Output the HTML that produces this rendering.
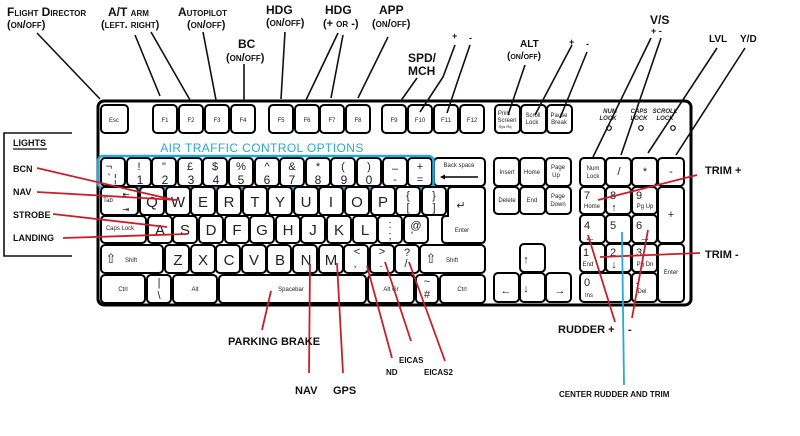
<!DOCTYPE html>
<html><head><meta charset="utf-8"><style>
html,body{margin:0;padding:0;background:#fff;}
svg{display:block;}
.k{fill:#fff;stroke:#000;stroke-width:2;}
.t{font-family:"Liberation Sans",sans-serif;font-size:6px;fill:#222;text-anchor:middle;}
.L{font-family:"Liberation Sans",sans-serif;font-size:15px;fill:#222;text-anchor:middle;}
.n{font-family:"Liberation Sans",sans-serif;font-size:11px;fill:#222;text-anchor:middle;}
.lb{font-family:"Liberation Sans",sans-serif;font-size:11px;font-weight:bold;font-variant:small-caps;fill:#111;}
.bl{stroke:#111;stroke-width:1.6;fill:none;}
.rd{stroke:#c8202a;stroke-width:1.8;fill:none;}
</style></head><body>
<svg width="800" height="436" viewBox="0 0 800 436" xmlns="http://www.w3.org/2000/svg">
<rect x="98" y="101" width="593" height="204" rx="6" fill="#fff" stroke="#000" stroke-width="3"/>
<!-- function row -->
<g>
<rect class="k" x="101" y="105" width="27" height="28" rx="4"/><text class="t" x="114" y="122">Esc</text>
<rect class="k" x="153" y="105" width="24" height="28" rx="4"/><text class="t" x="165" y="122">F1</text>
<rect class="k" x="179" y="105" width="24" height="28" rx="4"/><text class="t" x="191" y="122">F2</text>
<rect class="k" x="205" y="105" width="24" height="28" rx="4"/><text class="t" x="217" y="122">F3</text>
<rect class="k" x="231" y="105" width="24" height="28" rx="4"/><text class="t" x="243" y="122">F4</text>
<rect class="k" x="269" y="105" width="24" height="28" rx="4"/><text class="t" x="281" y="122">F5</text>
<rect class="k" x="295" y="105" width="24" height="28" rx="4"/><text class="t" x="307" y="122">F6</text>
<rect class="k" x="320" y="105" width="24" height="28" rx="4"/><text class="t" x="332" y="122">F7</text>
<rect class="k" x="346" y="105" width="24" height="28" rx="4"/><text class="t" x="358" y="122">F8</text>
<rect class="k" x="382" y="105" width="24" height="28" rx="4"/><text class="t" x="394" y="122">F9</text>
<rect class="k" x="408" y="105" width="24" height="28" rx="4"/><text class="t" x="420" y="122">F10</text>
<rect class="k" x="434" y="105" width="24" height="28" rx="4"/><text class="t" x="446" y="122">F11</text>
<rect class="k" x="460" y="105" width="24" height="28" rx="4"/><text class="t" x="472" y="122">F12</text>
<rect class="k" x="495" y="105" width="25" height="28" rx="4"/><text class="t" x="504" y="115">Print</text><text class="t" x="507" y="122">Screen</text><text class="t" x="505" y="128" style="font-size:4px">Sys Rq</text>
<rect class="k" x="521" y="105" width="25" height="28" rx="4"/><text class="t" x="533" y="117">Scroll</text><text class="t" x="532" y="124">Lock</text>
<rect class="k" x="547" y="105" width="25" height="28" rx="4"/><text class="t" x="559" y="117">Pause</text><text class="t" x="559" y="124">Break</text>
</g>
<text x="610" y="113" class="t" style="font-style:italic;font-weight:bold">NUM</text><text x="608" y="120" class="t" style="font-style:italic;font-weight:bold">LOCK</text>
<text x="639" y="113" class="t" style="font-style:italic;font-weight:bold">CAPS</text><text x="639" y="120" class="t" style="font-style:italic;font-weight:bold">LOCK</text>
<text x="665" y="113" class="t" style="font-style:italic;font-weight:bold">SCROLL</text><text x="665" y="120" class="t" style="font-style:italic;font-weight:bold">LOCK</text>
<circle cx="609" cy="128" r="2.3" fill="none" stroke="#111" stroke-width="1.2"/>
<circle cx="641" cy="128" r="2.3" fill="none" stroke="#111" stroke-width="1.2"/>
<circle cx="673" cy="128" r="2.3" fill="none" stroke="#111" stroke-width="1.2"/>
<text x="262" y="152" style="font-family:'Liberation Sans',sans-serif;font-size:12px;fill:#2aa8d6;letter-spacing:0.4px" text-anchor="middle">AIR TRAFFIC CONTROL OPTIONS</text>
<!-- number row -->
<g>
<rect class="k" x="101" y="158" width="24" height="28" rx="4"/><text class="n" x="109" y="170">¬</text><text class="n" x="112" y="182">` ¦</text>
<rect class="k" x="127" y="158" width="24" height="28" rx="4"/><text class="n" x="139" y="170">!</text><text class="L" x="140" y="184" style="font-size:12px">1</text>
<rect class="k" x="152" y="158" width="24" height="28" rx="4"/><text class="n" x="164" y="170">"</text><text class="L" x="165" y="184" style="font-size:12px">2</text>
<rect class="k" x="178" y="158" width="24" height="28" rx="4"/><text class="n" x="190" y="170">£</text><text class="L" x="191" y="184" style="font-size:12px">3</text>
<rect class="k" x="203" y="158" width="24" height="28" rx="4"/><text class="n" x="215" y="170">$</text><text class="L" x="216" y="184" style="font-size:12px">4</text>
<rect class="k" x="229" y="158" width="24" height="28" rx="4"/><text class="n" x="241" y="170">%</text><text class="L" x="241" y="184" style="font-size:12px">5</text>
<rect class="k" x="255" y="158" width="24" height="28" rx="4"/><text class="n" x="267" y="170">^</text><text class="L" x="267" y="184" style="font-size:12px">6</text>
<rect class="k" x="280" y="158" width="24" height="28" rx="4"/><text class="n" x="292" y="170">&amp;</text><text class="L" x="292" y="184" style="font-size:12px">7</text>
<rect class="k" x="306" y="158" width="24" height="28" rx="4"/><text class="n" x="318" y="170">*</text><text class="L" x="318" y="184" style="font-size:12px">8</text>
<rect class="k" x="331" y="158" width="24" height="28" rx="4"/><text class="n" x="343" y="170">(</text><text class="L" x="344" y="184" style="font-size:12px">9</text>
<rect class="k" x="357" y="158" width="24" height="28" rx="4"/><text class="n" x="369" y="170">)</text><text class="L" x="369" y="184" style="font-size:12px">0</text>
<rect class="k" x="383" y="158" width="24" height="28" rx="4"/><text class="n" x="395" y="172">–</text><text class="n" x="395" y="183">-</text>
<rect class="k" x="408" y="158" width="24" height="28" rx="4"/><text class="n" x="420" y="170">+</text><text class="n" x="420" y="183">=</text>
<rect class="k" x="434" y="158" width="51" height="28" rx="4"/><text class="t" x="459" y="167">Back space</text><line x1="442" y1="177" x2="478" y2="177" stroke="#000" stroke-width="1.5"/><path d="M440,177 l5,-2.5 v5z" fill="#000"/>
</g>
<rect x="98" y="156" width="335.5" height="32" rx="5" fill="none" stroke="#2aa8d6" stroke-width="2.5"/>
<!-- Q row -->
<g>
<rect class="k" x="101" y="187" width="37" height="28" rx="4"/><text class="t" x="108" y="202">Tab</text><text class="n" x="126" y="197" style="font-size:8px">⇤</text><text class="n" x="126" y="212" style="font-size:8px">⇥</text>
<rect class="k" x="140" y="187" width="24" height="28" rx="4"/><text class="L" x="152" y="207">Q</text>
<rect class="k" x="166" y="187" width="24" height="28" rx="4"/><text class="L" x="178" y="207">W</text>
<rect class="k" x="191" y="187" width="24" height="28" rx="4"/><text class="L" x="203" y="207">E</text>
<rect class="k" x="217" y="187" width="24" height="28" rx="4"/><text class="L" x="229" y="207">R</text>
<rect class="k" x="243" y="187" width="24" height="28" rx="4"/><text class="L" x="255" y="207">T</text>
<rect class="k" x="268" y="187" width="24" height="28" rx="4"/><text class="L" x="280" y="207">Y</text>
<rect class="k" x="294" y="187" width="24" height="28" rx="4"/><text class="L" x="306" y="207">U</text>
<rect class="k" x="319" y="187" width="24" height="28" rx="4"/><text class="L" x="331" y="207">I</text>
<rect class="k" x="345" y="187" width="24" height="28" rx="4"/><text class="L" x="357" y="207">O</text>
<rect class="k" x="371" y="187" width="24" height="28" rx="4"/><text class="L" x="383" y="207">P</text>
<rect class="k" x="396" y="187" width="24" height="28" rx="4"/><text class="n" x="408" y="199">{</text><text class="n" x="408" y="211">[</text>
<rect class="k" x="422" y="187" width="24" height="28" rx="4"/><text class="n" x="434" y="199">}</text><text class="n" x="434" y="211">]</text>
<path class="k" d="M452,187 H481 q4,0 4,4 V239 q0,4 -4,4 H446 q-4,0 -4,-4 V220 q0,-4 4,-4 H448 V191 q0,-4 4,-4z"/>
<text class="n" x="461" y="209">↵</text><text class="t" x="462" y="232">Enter</text>
</g>
<!-- A row -->
<g>
<rect class="k" x="101" y="216" width="45" height="27" rx="4"/><text class="t" x="120" y="230">Caps Lock</text>
<rect class="k" x="148" y="216" width="24" height="27" rx="4"/><text class="L" x="160" y="235">A</text>
<rect class="k" x="173" y="216" width="24" height="27" rx="4"/><text class="L" x="185" y="235">S</text>
<rect class="k" x="199" y="216" width="24" height="27" rx="4"/><text class="L" x="211" y="235">D</text>
<rect class="k" x="225" y="216" width="24" height="27" rx="4"/><text class="L" x="237" y="235">F</text>
<rect class="k" x="250" y="216" width="24" height="27" rx="4"/><text class="L" x="262" y="235">G</text>
<rect class="k" x="276" y="216" width="24" height="27" rx="4"/><text class="L" x="288" y="235">H</text>
<rect class="k" x="301" y="216" width="24" height="27" rx="4"/><text class="L" x="313" y="235">J</text>
<rect class="k" x="327" y="216" width="24" height="27" rx="4"/><text class="L" x="339" y="235">K</text>
<rect class="k" x="353" y="216" width="24" height="27" rx="4"/><text class="L" x="365" y="235">L</text>
<rect class="k" x="378" y="216" width="24" height="27" rx="4"/><text class="n" x="390" y="228">:</text><text class="n" x="390" y="239">;</text>
<rect class="k" x="404" y="216" width="24" height="27" rx="4"/><text class="n" x="416" y="229">@</text><text class="n" x="412" y="239">'</text>
</g>
<!-- Z row -->
<g>
<rect class="k" x="101" y="245" width="62" height="28" rx="4"/><text class="n" x="111" y="263" style="font-size:13px">⇧</text><text class="t" x="131" y="262">Shift</text>
<rect class="k" x="165" y="245" width="24" height="28" rx="4"/><text class="L" x="178" y="265">Z</text>
<rect class="k" x="191" y="245" width="24" height="28" rx="4"/><text class="L" x="203" y="265">X</text>
<rect class="k" x="216" y="245" width="24" height="28" rx="4"/><text class="L" x="229" y="265">C</text>
<rect class="k" x="242" y="245" width="24" height="28" rx="4"/><text class="L" x="254" y="265">V</text>
<rect class="k" x="267" y="245" width="24" height="28" rx="4"/><text class="L" x="280" y="265">B</text>
<rect class="k" x="293" y="245" width="24" height="28" rx="4"/><text class="L" x="306" y="265">N</text>
<rect class="k" x="319" y="245" width="24" height="28" rx="4"/><text class="L" x="331" y="265">M</text>
<rect class="k" x="344" y="245" width="24" height="28" rx="4"/><text class="n" x="357" y="255">&lt;</text><text class="n" x="355" y="267">,</text>
<rect class="k" x="370" y="245" width="24" height="28" rx="4"/><text class="n" x="382" y="255">&gt;</text><text class="n" x="381" y="267">.</text>
<rect class="k" x="395" y="245" width="24" height="28" rx="4"/><text class="n" x="407" y="256">?</text><text class="n" x="406" y="267">/</text>
<rect class="k" x="420" y="245" width="65" height="28" rx="4"/><text class="n" x="431" y="263" style="font-size:13px">⇧</text><text class="t" x="452" y="262">Shift</text>
</g>
<!-- bottom row -->
<g>
<rect class="k" x="101" y="275" width="44" height="28" rx="4"/><text class="t" x="123" y="291">Ctrl</text>
<rect class="k" x="147" y="275" width="24" height="28" rx="4"/><text class="n" x="159" y="286">|</text><text class="n" x="159" y="299">\</text>
<rect class="k" x="173" y="275" width="44" height="28" rx="4"/><text class="t" x="195" y="291">Alt</text>
<rect class="k" x="219" y="275" width="147" height="28" rx="4"/><text class="t" x="291" y="291">Spacebar</text>
<rect class="k" x="368" y="275" width="46" height="28" rx="4"/><text class="t" x="391" y="291">Alt Gr</text>
<rect class="k" x="416" y="275" width="22" height="28" rx="4"/><text class="n" x="427" y="285">~</text><text class="n" x="427" y="298">#</text>
<rect class="k" x="440" y="275" width="45" height="28" rx="4"/><text class="t" x="462" y="291">Ctrl</text>
</g>
<!-- nav cluster -->
<g>
<rect class="k" x="494" y="158" width="25" height="28" rx="4"/><text class="t" x="507" y="174">Insert</text>
<rect class="k" x="520" y="158" width="25" height="28" rx="4"/><text class="t" x="532" y="174">Home</text>
<rect class="k" x="546" y="158" width="25" height="28" rx="4"/><text class="t" x="558" y="169">Page</text><text class="t" x="556" y="177">Up</text>
<rect class="k" x="494" y="187" width="25" height="27" rx="4"/><text class="t" x="507" y="202">Delete</text>
<rect class="k" x="520" y="187" width="25" height="27" rx="4"/><text class="t" x="532" y="202">End</text>
<rect class="k" x="546" y="187" width="25" height="27" rx="4"/><text class="t" x="558" y="198">Page</text><text class="t" x="558" y="206">Down</text>
<rect class="k" x="520" y="244" width="25" height="28" rx="4"/><text class="n" x="526" y="263">↑</text>
<rect class="k" x="494" y="273" width="25" height="29" rx="4"/><text class="n" x="506" y="294">←</text>
<rect class="k" x="520" y="273" width="25" height="29" rx="4"/><text class="n" x="526" y="292">↓</text>
<rect class="k" x="546" y="273" width="25" height="29" rx="4"/><text class="n" x="560" y="294">→</text>
</g>
<!-- numpad -->
<g>
<rect class="k" x="580" y="158" width="25" height="28" rx="4"/><text class="t" x="593" y="170">Num</text><text class="t" x="593" y="178">Lock</text>
<rect class="k" x="606" y="158" width="25" height="28" rx="4"/><text class="n" x="619" y="175">/</text>
<rect class="k" x="632" y="158" width="25" height="28" rx="4"/><text class="n" x="645" y="175">*</text>
<rect class="k" x="658" y="158" width="26" height="28" rx="4"/><text class="n" x="671" y="175">-</text>
<rect class="k" x="580" y="187" width="25" height="27" rx="4"/><text class="n" x="587" y="199">7</text><text class="t" x="592" y="208">Home</text>
<rect class="k" x="606" y="187" width="25" height="27" rx="4"/><text class="n" x="613" y="199">8</text><text class="n" x="614" y="211">↑</text>
<rect class="k" x="632" y="187" width="25" height="27" rx="4"/><text class="n" x="639" y="199">9</text><text class="t" x="645" y="208">Pg Up</text>
<rect class="k" x="658" y="187" width="26" height="56" rx="4"/><text class="n" x="671" y="218">+</text>
<rect class="k" x="580" y="215" width="25" height="28" rx="4"/><text class="n" x="587" y="229">4</text><text class="n" x="590" y="241">←</text>
<rect class="k" x="606" y="215" width="25" height="28" rx="4"/><text class="n" x="613" y="229">5</text>
<rect class="k" x="632" y="215" width="25" height="28" rx="4"/><text class="n" x="639" y="229">6</text><text class="n" x="645" y="241">→</text>
<rect class="k" x="580" y="244" width="25" height="28" rx="4"/><text class="n" x="586" y="256">1</text><text class="t" x="588" y="266">End</text>
<rect class="k" x="606" y="244" width="25" height="28" rx="4"/><text class="n" x="613" y="256">2</text><text class="n" x="614" y="268">↓</text>
<rect class="k" x="632" y="244" width="25" height="28" rx="4"/><text class="n" x="639" y="256">3</text><text class="t" x="645" y="266">Pg Dn</text>
<rect class="k" x="658" y="244" width="26" height="58" rx="4"/><text class="t" x="671" y="274">Enter</text>
<rect class="k" x="580" y="273" width="51" height="29" rx="4"/><text class="n" x="587" y="286">0</text><text class="t" x="589" y="297">Ins</text>
<rect class="k" x="632" y="273" width="25" height="29" rx="4"/><text class="n" x="637" y="284">.</text><text class="t" x="642" y="293">Del</text>
</g>
<!-- lights box -->
<path class="bl" d="M72,133 H4 V256 H72" stroke-width="1.5"/>
<text class="lb" x="13" y="146" style="font-size:9px">LIGHTS</text><line x1="13" y1="149" x2="47" y2="149" stroke="#111" stroke-width="1.2"/>
<text class="lb" x="13" y="172" style="font-size:9px">BCN</text>
<text class="lb" x="13" y="195" style="font-size:9px">NAV</text>
<text class="lb" x="13" y="218" style="font-size:9px">STROBE</text>
<text class="lb" x="13" y="241" style="font-size:9px">LANDING</text>
<!-- red lines -->
<line class="rd" x1="37" y1="168" x2="174" y2="200"/>
<line class="rd" x1="37" y1="192" x2="177" y2="200"/>
<line class="rd" x1="53" y1="214" x2="167" y2="227"/>
<line class="rd" x1="63" y1="238" x2="188" y2="234"/>
<line class="rd" x1="271" y1="291" x2="262" y2="330"/>
<line class="rd" x1="310" y1="264" x2="309" y2="373"/>
<line class="rd" x1="337" y1="263" x2="343" y2="373"/>
<line class="rd" x1="367" y1="266" x2="392" y2="358"/>
<line class="rd" x1="385" y1="262" x2="411" y2="341"/>
<line class="rd" x1="409" y1="262" x2="445" y2="361"/>
<line class="rd" x1="697" y1="175" x2="598" y2="200"/>
<line class="rd" x1="700" y1="253" x2="600" y2="257"/>
<line class="rd" x1="588" y1="235" x2="615" y2="322"/>
<line class="rd" x1="648" y1="230" x2="632" y2="318"/>
<line x1="622" y1="232" x2="624" y2="385" stroke="#2aa8d6" stroke-width="1.8"/>
<!-- bottom labels -->
<text class="lb" x="228" y="345" style="font-size:11px">PARKING BRAKE</text>
<text class="lb" x="295" y="394" style="font-size:11px">NAV</text>
<text class="lb" x="333" y="394" style="font-size:11px">GPS</text>
<text class="lb" x="386" y="375" style="font-size:8px">ND</text>
<text class="lb" x="399" y="363" style="font-size:8px">EICAS</text>
<text class="lb" x="424" y="375" style="font-size:8px">EICAS2</text>
<text class="lb" x="558" y="333" style="font-size:11px">RUDDER +</text>
<text class="lb" x="628" y="333" style="font-size:11px">-</text>
<text class="lb" x="559" y="397" style="font-size:8px">CENTER RUDDER AND TRIM</text>
<text class="lb" x="705" y="174" style="font-size:11px">TRIM +</text>
<text class="lb" x="705" y="258" style="font-size:11px">TRIM -</text>
<!-- top labels -->
<text class="lb" x="7" y="16" style="font-size:12px">Flight Director</text>
<text class="lb" x="7" y="28" style="font-size:11px">(on/off)</text>
<text class="lb" x="108" y="16" style="font-size:12px">A/T arm</text>
<text class="lb" x="101" y="28" style="font-size:11px">(left. right)</text>
<text class="lb" x="178" y="16" style="font-size:12px">Autopilot</text>
<text class="lb" x="187" y="28" style="font-size:11px">(on/off)</text>
<text class="lb" x="266" y="14" style="font-size:12px">HDG</text>
<text class="lb" x="266" y="26" style="font-size:11px">(on/off)</text>
<text class="lb" x="325" y="14" style="font-size:12px">HDG</text>
<text class="lb" x="323" y="27" style="font-size:11px">(+ or -)</text>
<text class="lb" x="379" y="14" style="font-size:12px">APP</text>
<text class="lb" x="372" y="27" style="font-size:11px">(on/off)</text>
<text class="lb" x="238" y="48" style="font-size:12px">BC</text>
<text class="lb" x="226" y="61" style="font-size:11px">(on/off)</text>
<text class="lb" x="408" y="62" style="font-size:12px">SPD/</text>
<text class="lb" x="408" y="75" style="font-size:12px">MCH</text>
<text class="lb" x="452" y="39" style="font-size:9px">+</text><text class="lb" x="469" y="41" style="font-size:9px">-</text>
<text class="lb" x="520" y="47" style="font-size:10px">ALT</text>
<text class="lb" x="507" y="59" style="font-size:10px">(on/off)</text>
<text class="lb" x="569" y="45" style="font-size:9px">+</text><text class="lb" x="586" y="47" style="font-size:9px">-</text>
<text class="lb" x="650" y="24" style="font-size:12px">V/S</text>
<text class="lb" x="651" y="34" style="font-size:9px">+ -</text>
<text class="lb" x="709" y="42" style="font-size:10px">LVL</text>
<text class="lb" x="740" y="42" style="font-size:10px">Y/D</text>
<!-- black leader lines -->
<line class="bl" x1="37" y1="33" x2="100" y2="99"/>
<line class="bl" x1="135" y1="35" x2="160" y2="96"/>
<line class="bl" x1="151" y1="32" x2="190" y2="100"/>
<line class="bl" x1="203" y1="32" x2="216" y2="100"/>
<line class="bl" x1="244" y1="64" x2="244" y2="100"/>
<line class="bl" x1="285" y1="32" x2="281" y2="99"/>
<line class="bl" x1="338" y1="33" x2="306" y2="100"/>
<line class="bl" x1="343" y1="35" x2="331" y2="98"/>
<line class="bl" x1="388" y1="37" x2="358" y2="98"/>
<line class="bl" x1="417" y1="78" x2="400" y2="102"/>
<path class="bl" d="M455,45 L443,77 L420,112"/>
<path class="bl" d="M470,45 L458,80 L447,113"/>
<line class="bl" x1="525" y1="65" x2="508" y2="115"/>
<line class="bl" x1="572" y1="45" x2="535" y2="115"/>
<line class="bl" x1="587" y1="52" x2="560" y2="118"/>
<line class="bl" x1="651" y1="38" x2="593" y2="157"/>
<line class="bl" x1="661" y1="38" x2="621" y2="155"/>
<line class="bl" x1="717" y1="48" x2="648" y2="153"/>
<line class="bl" x1="745" y1="48" x2="676" y2="155"/>
</svg>
</body></html>
